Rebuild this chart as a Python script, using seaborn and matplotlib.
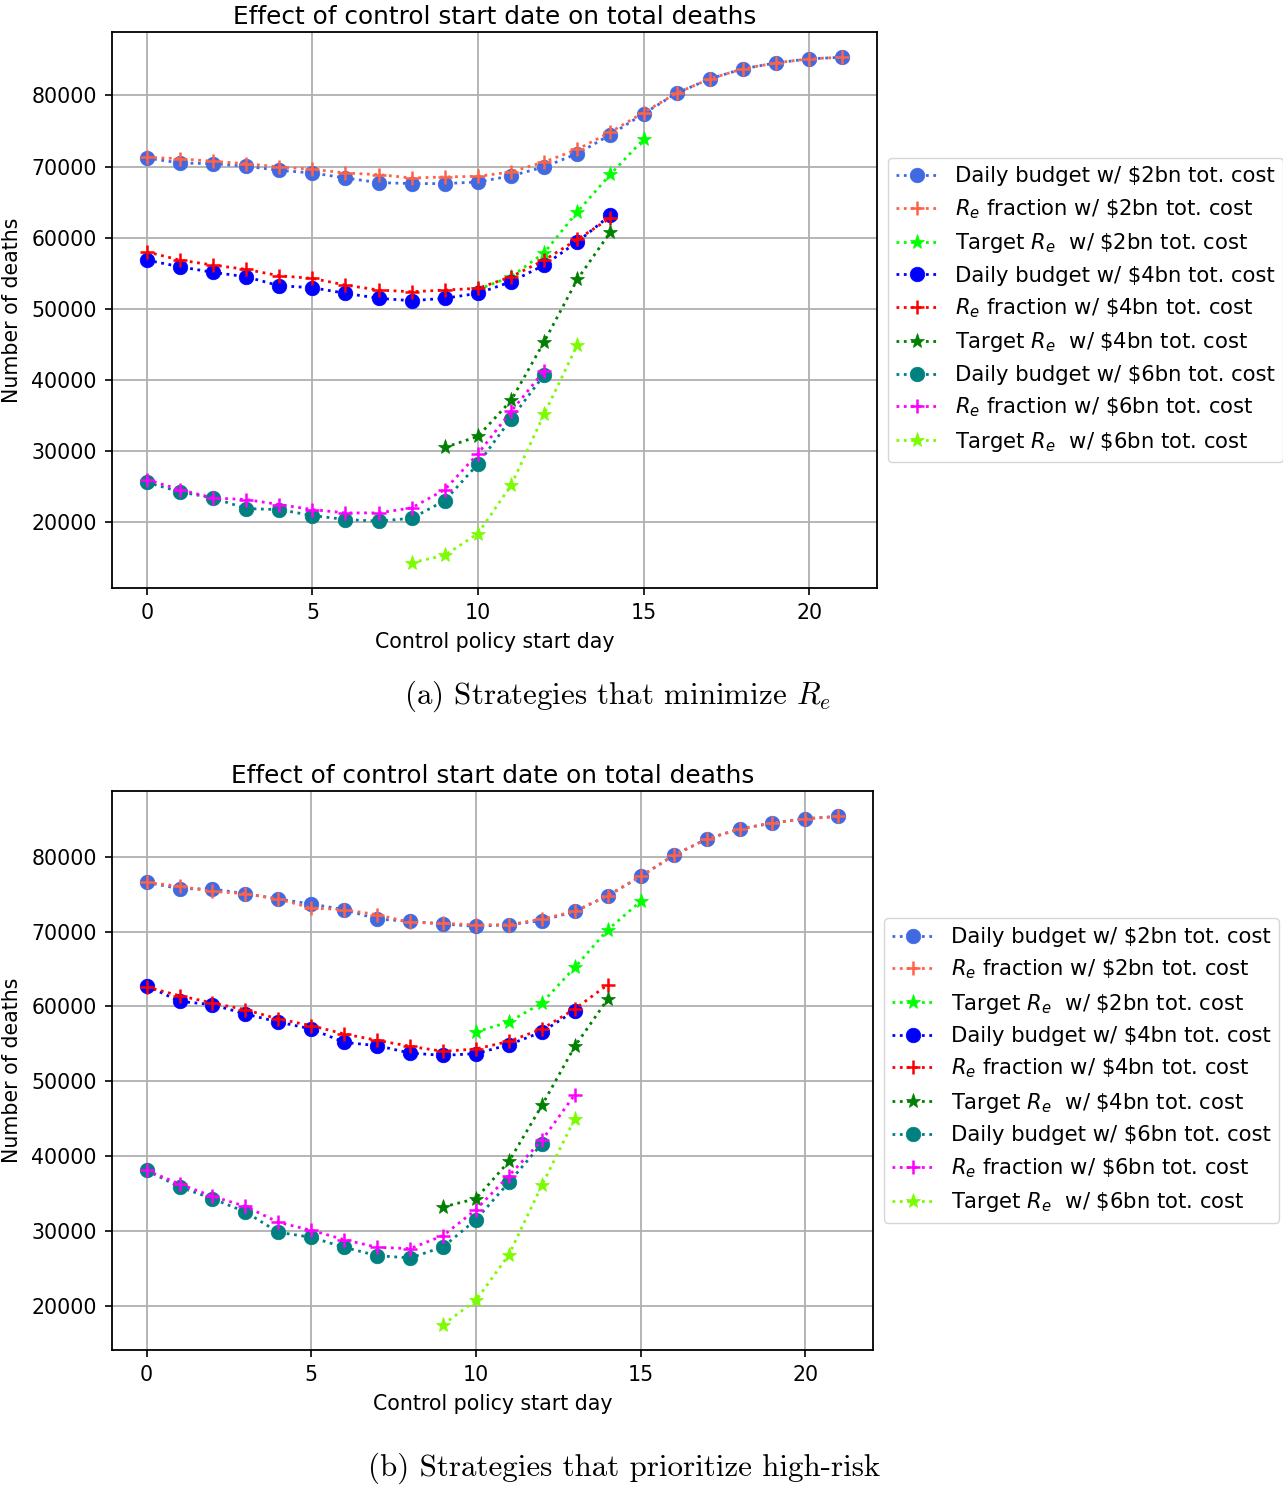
import matplotlib
matplotlib.use("Agg")
import matplotlib.pyplot as plt
import seaborn as sns

# =============================================================================
# data (deaths per control start day)
# =============================================================================
# (a) strategies that minimize R_e
a_daily2 = [71200, 70500, 70400, 70030, 69470, 69090, 68390, 67740, 67600, 67600, 67830,
            68690, 69940, 71810, 74480, 77430, 80330, 82340, 83750, 84590, 85150, 85380]
a_re2 = [71300, 71100, 70730, 70400, 69940, 69610, 69090, 68860, 68390, 68530, 68630,
         69240, 70640, 72420, 74850, 77600, 80330, 82340, 83750, 84590, 85150, 85380]
a_target2 = [52700, 54500, 57860, 63620, 68910, 73820]
a_daily4 = [56830, 55900, 55110, 54490, 53230, 52950, 52160, 51460, 51120, 51460, 52160,
            53790, 56130, 59400, 63150]
a_re4 = [58000, 56830, 56130, 55530, 54630, 54260, 53320, 52620, 52380, 52620, 52860,
         54490, 56830, 59740, 62770]
a_target4 = [30480, 32030, 37080, 45360, 54120, 60800]
a_daily6 = [25570, 24220, 23370, 21870, 21730, 20890, 20330, 20100, 20510, 23000, 28150,
            34510, 40690]
a_re6 = [25950, 24540, 23370, 23140, 22440, 21730, 21260, 21260, 21970, 24540, 29600,
         35540, 41250]
a_target6 = [14250, 15310, 18360, 25150, 35170, 44900]

# (b) strategies that prioritize high-risk
b_daily2 = [76570, 75730, 75690, 75060, 74350, 73690, 72920, 71680, 71370, 71010, 70700,
            70920, 71460, 72700, 74800, 77370, 80180, 82360, 83700, 84500, 85070, 85380]
b_re2 = [76570, 76040, 75370, 75060, 74350, 73150, 72920, 72260, 71230, 71100, 70900,
         70920, 71680, 72700, 74800, 77370, 80180, 82360, 83700, 84500, 85070, 85380]
b_target2 = [56600, 57930, 60470, 65220, 70250, 74040]
b_daily4 = [62780, 60690, 60240, 59000, 57930, 57000, 55210, 54770, 53780, 53470, 53700,
            54900, 56600, 59440]
b_re4 = [62600, 61440, 60470, 59570, 58330, 57440, 56330, 55480, 54680, 54010, 54330,
         55340, 57000, 59670, 62910]
b_target4 = [33230, 34340, 39320, 46780, 54680, 61000]
b_daily6 = [38120, 35900, 34340, 32570, 29850, 29180, 27840, 26730, 26420, 27890, 31540,
            36520, 41690]
b_re6 = [38120, 36300, 34650, 33320, 31180, 30110, 28870, 27840, 27670, 29400, 32880,
         37410, 42130, 48230]
b_target6 = [17520, 20770, 26870, 36120, 45020]

# first start day of each series, per panel
a_start = [0, 0, 10, 0, 0, 9, 0, 0, 8]
b_start = [0, 0, 10, 0, 0, 9, 0, 0, 9]

labels = ["Daily budget w/ \\$2bn tot. cost", "$R_e$ fraction w/ \\$2bn tot. cost",
          "Target $R_e$  w/ \\$2bn tot. cost",
          "Daily budget w/ \\$4bn tot. cost", "$R_e$ fraction w/ \\$4bn tot. cost",
          "Target $R_e$  w/ \\$4bn tot. cost",
          "Daily budget w/ \\$6bn tot. cost", "$R_e$ fraction w/ \\$6bn tot. cost",
          "Target $R_e$  w/ \\$6bn tot. cost"]
colors = ["royalblue", "tomato", "lime", "blue", "red", "green", "teal", "magenta", "lawngreen"]
markers = ["o", "+", "*", "o", "+", "*", "o", "+", "*"]

fs = 14.8
plt.rcParams["axes.linewidth"] = 1.3
plt.rcParams["mathtext.fontset"] = "dejavusans"

fig = plt.figure(figsize=(12.83, 14.86), dpi=100)
ax_a = fig.add_axes([0.0873, 0.6043, 0.5963, 0.3742])
ax_b = fig.add_axes([0.0873, 0.0915, 0.5931, 0.3762])


def draw(ax, series, starts):
    for vals, s, lab, c, m in zip(series, starts, labels, colors, markers):
        days = list(range(s, s + len(vals)))
        ms = 11 if m == "*" else 10.5
        sns.lineplot(x=days, y=vals, ax=ax, color=c, marker=m, linestyle=":",
                     linewidth=2, markersize=ms, markeredgecolor=c,
                     markeredgewidth=1.8 if m == "+" else 0.5, label=lab)
    ax.grid(True, color="#b0b0b0", linewidth=1.3)
    ax.set_axisbelow(True)
    ax.set_xticks([0, 5, 10, 15, 20])
    ax.tick_params(labelsize=fs, width=1.2, length=5, pad=6)
    ax.set_xlabel("Control policy start day", fontsize=fs, labelpad=6)
    ax.set_ylabel("Number of deaths", fontsize=fs, labelpad=7)
    ax.set_title("Effect of control start date on total deaths", fontsize=17.8)
    ax.legend(loc="center left", bbox_to_anchor=(1.0, 0.5), fontsize=15.2,
              handlelength=2.0)


draw(ax_a, [a_daily2, a_re2, a_target2, a_daily4, a_re4, a_target4,
            a_daily6, a_re6, a_target6], a_start)
draw(ax_b, [b_daily2, b_re2, b_target2, b_daily4, b_re4, b_target4,
            b_daily6, b_re6, b_target6], b_start)

# captions in the latex style
fig.text(0.481, 0.5316, "(a) Strategies that minimize $R_e$", ha="center", va="center",
         family="cmr10", fontsize=22.3, math_fontfamily="cm")
fig.text(0.4867, 0.0121, "(b) Strategies that prioritize high-risk", ha="center",
         va="center", family="cmr10", fontsize=22.3)

fig.savefig("out.png", dpi=100)
